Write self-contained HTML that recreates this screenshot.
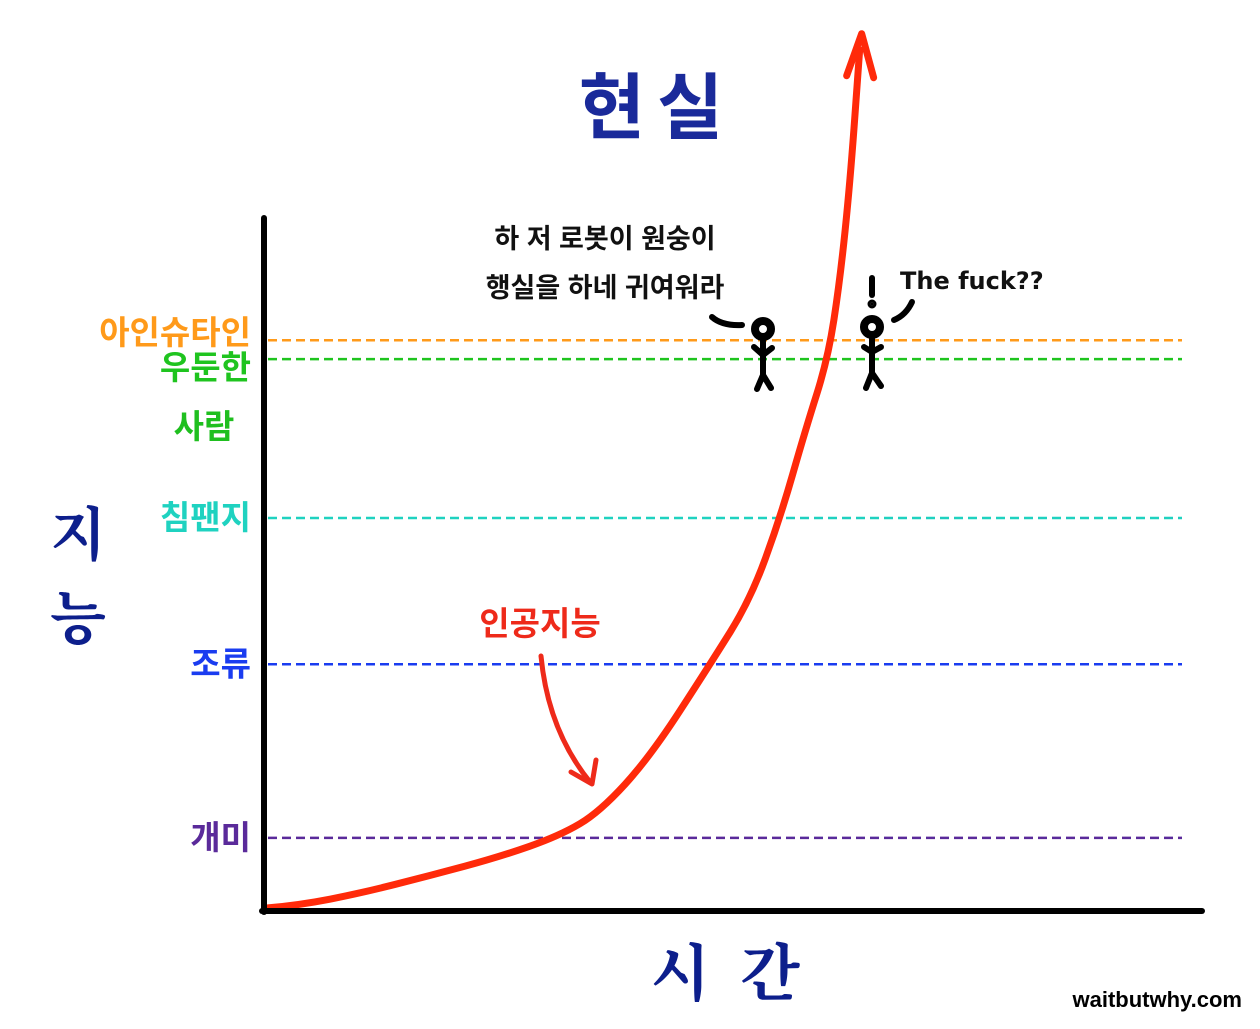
<!DOCTYPE html>
<html><head><meta charset="utf-8">
<style>
html,body{margin:0;padding:0;background:#fff;width:1260px;height:1029px;overflow:hidden}
svg{display:block}
text{font-family:"Liberation Sans","Noto Sans CJK KR",sans-serif;font-weight:bold}
</style></head>
<body>
<svg id="chart" width="1260" height="1029" viewBox="0 0 1260 1029">
<g id="levels"></g>
<g id="curve"></g>
<line x1="264" y1="218" x2="264" y2="912" stroke="#000" stroke-width="6" stroke-linecap="round"/>
<line x1="262" y1="911" x2="1202" y2="911" stroke="#000" stroke-width="6" stroke-linecap="round"/>
<text x="657" y="133" text-anchor="middle" font-size="72" fill="#1a2a9a" letter-spacing="12">현실</text>
<text x="78" y="555" text-anchor="middle" font-size="58" fill="#0d1f8c" style="font-family:'Noto Serif CJK SC','Noto Sans CJK KR',serif">지</text>
<text x="78" y="638" text-anchor="middle" font-size="58" fill="#0d1f8c" style="font-family:'Noto Serif CJK SC','Noto Sans CJK KR',serif">능</text>
<text x="740" y="995" text-anchor="middle" font-size="62" fill="#0d1f8c" letter-spacing="30" style="font-family:'Noto Serif CJK SC','Noto Sans CJK KR',serif">시간</text>
<text x="204" y="438" text-anchor="middle" font-size="33" fill="#1fbf1f">사람</text>
<text x="605" y="248" text-anchor="middle" font-size="27" fill="#111">하 저 로봇이 원숭이</text>
<text x="605" y="297" text-anchor="middle" font-size="27" fill="#111">행실을 하네 귀여워라</text>
<text x="900" y="289" font-size="24" fill="#111" style="font-family:'DejaVu Sans',sans-serif">The fuck??</text>
<text x="540" y="635" text-anchor="middle" font-size="33" fill="#ee2a1a">인공지능</text>
<path d="M541 656 Q548 730 590 782" fill="none" stroke="#ee2a1a" stroke-width="5" stroke-linecap="round"/>
<path d="M571 772 L592 784 L596 760" fill="none" stroke="#ee2a1a" stroke-width="5" stroke-linecap="round" stroke-linejoin="round"/>
<g stroke="#000" stroke-width="6" fill="none" stroke-linecap="round">
<path d="M712 317 Q722 326 742 325"/>
<circle cx="763" cy="329" r="8" stroke-width="8"/>
<line x1="763" y1="337" x2="763" y2="375"/><line x1="763" y1="355" x2="754" y2="347"/><line x1="763" y1="355" x2="772" y2="348"/>
<line x1="763" y1="375" x2="757" y2="389"/><line x1="763" y1="375" x2="771" y2="388"/>
</g>
<g stroke="#000" stroke-width="6" fill="none" stroke-linecap="round">
<line x1="872" y1="278" x2="872" y2="295"/><circle cx="872" cy="304" r="1.5" fill="#000"/>
<path d="M912 302 Q906 315 894 320"/>
<circle cx="872" cy="327" r="8" stroke-width="8"/>
<line x1="872" y1="335" x2="872" y2="373"/><line x1="872" y1="352" x2="864" y2="347"/><line x1="872" y1="352" x2="881" y2="347"/>
<line x1="872" y1="373" x2="866" y2="388"/><line x1="872" y1="373" x2="881" y2="386"/>
</g>
<text x="1242" y="1007" text-anchor="end" font-size="22" fill="#000">waitbutwhy.com</text>
</svg>
<script>
// intelligence levels (value on 0-130 scale)
const levelNames = ["아인슈타인","우둔한","침팬지","조류","개미"];
const levelValues = [81.4, 78.7, 56, 35.1, 10.3];
const levelColors = ["#ff9a1a","#1fc41f","#1fd2c0","#1a3cf0","#5a2a9a"];
// AI curve: time (0-100) vs intelligence
const curveTime = [0.3,3.7,10.2,17.6,25.1,31.5,35.8,41.2,47.6,51.9,55.1,57.8,60.2,61.5,62.6,63.6];
const curveIntel = [0.3,0.7,2.4,4.9,7.6,10.6,14,21.9,35.1,44.3,56,68.6,78.7,90,104.3,122.9];

const xScale = t => 265 + t * 9.35;
const yScale = v => 910 - v * 7;
const NS = "http://www.w3.org/2000/svg";
const lg = document.getElementById("levels");
levelNames.forEach((n, i) => {
  const y = yScale(levelValues[i]);
  const l = document.createElementNS(NS, "line");
  l.setAttribute("x1", 268); l.setAttribute("x2", 1182);
  l.setAttribute("y1", y); l.setAttribute("y2", y);
  l.setAttribute("stroke", levelColors[i]); l.setAttribute("stroke-width", 2.5);
  l.setAttribute("stroke-dasharray", "9 5");
  
  
  lg.appendChild(l);
  const t = document.createElementNS(NS, "text");
  t.setAttribute("x", 251);
  t.setAttribute("y", y + (i === 0 ? 4 : i === 1 ? 20 : 11));
  t.setAttribute("text-anchor", "end");
  t.setAttribute("font-size", 33);
  t.setAttribute("fill", levelColors[i]);
  t.textContent = n;
  
  
  lg.appendChild(t);
});
const cg = document.getElementById("curve");
const pts = curveTime.map((t, i) => [xScale(t), yScale(curveIntel[i])]);
let d = "M" + pts[0][0] + " " + pts[0][1];
for (let i = 1; i < pts.length - 1; i++) {
  const mx = (pts[i][0] + pts[i + 1][0]) / 2, my = (pts[i][1] + pts[i + 1][1]) / 2;
  d += " Q" + pts[i][0] + " " + pts[i][1] + " " + mx + " " + my;
}
d += " L" + pts[pts.length - 1][0] + " " + pts[pts.length - 1][1];
const p = document.createElementNS(NS, "path");
p.setAttribute("d", d); p.setAttribute("fill", "none");
p.setAttribute("stroke", "#ff2a0a"); p.setAttribute("stroke-width", 7);
p.setAttribute("stroke-linecap", "round");


cg.appendChild(p);
const last = pts[pts.length - 1];
const ah = document.createElementNS(NS, "path");
ah.setAttribute("d", "M" + (last[0] - 13) + " " + (last[1] + 26) + " L" + (last[0] + 2) + " " + (last[1] - 16) + " L" + (last[0] + 14) + " " + (last[1] + 28));
ah.setAttribute("fill", "none"); ah.setAttribute("stroke", "#ff2a0a");
ah.setAttribute("stroke-width", 7); ah.setAttribute("stroke-linecap", "round"); ah.setAttribute("stroke-linejoin", "round");


cg.appendChild(ah);
</script>
</body></html>
